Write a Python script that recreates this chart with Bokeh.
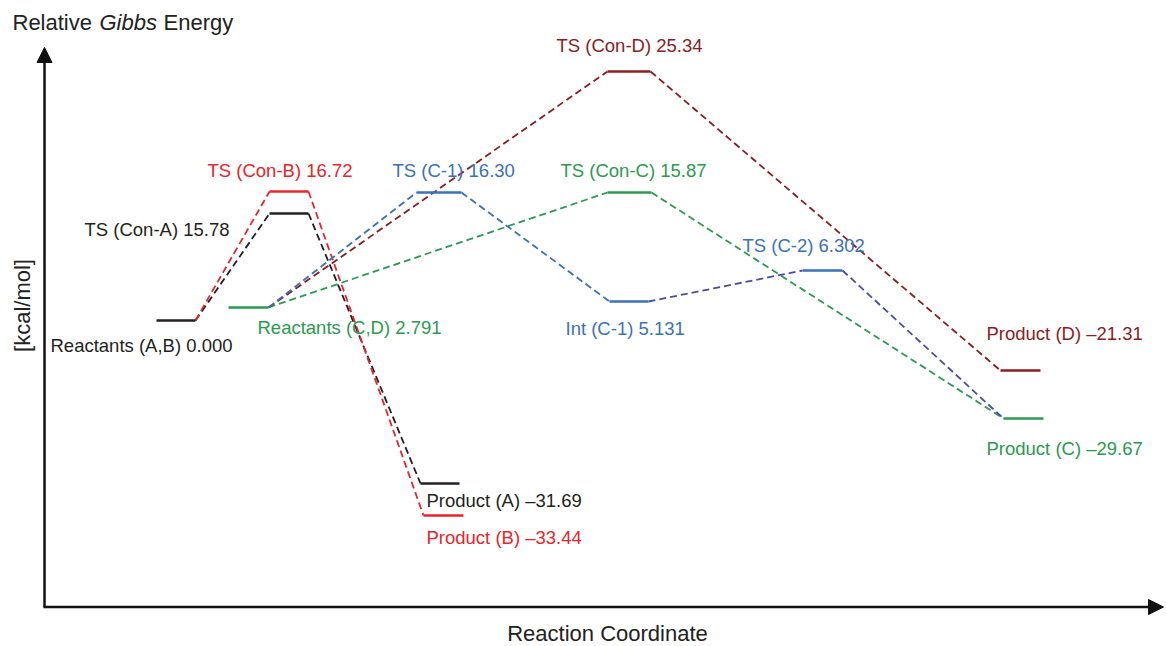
import math
from bokeh.plotting import figure
from bokeh.models import Range1d, Arrow, NormalHead, ColumnDataSource
from bokeh.core.properties import value
from bokeh.embed import file_html
from bokeh.resources import INLINE

# ---------------- data ----------------
state_names = ["Reactants (A,B)", "TS (Con-A)", "TS (Con-B)", "Product (A)", "Product (B)",
               "Reactants (C,D)", "TS (C-1)", "Int (C-1)", "TS (C-2)", "TS (Con-C)",
               "TS (Con-D)", "Product (C)", "Product (D)"]
energies = [0.000, 15.78, 16.72, -31.69, -33.44, 2.791, 16.30, 5.131, 6.302, 15.87,
            25.34, -29.67, -21.31]
energy_text = ["0.000", "15.78", "16.72", "\u201331.69", "\u201333.44", "2.791", "16.30",
               "5.131", "6.302", "15.87", "25.34", "\u201329.67", "\u201321.31"]
# schematic drawing height of each level (diagram units, not to scale)
level_y = [0.0, 10.7, 12.9, -16.3, -19.5, 1.3, 12.8, 1.9, 5.0, 12.8, 24.9, -9.8, -5.0]
# reaction-coordinate span of each level
level_x0 = [11.2, 22.5, 22.5, 37.6, 37.9, 18.4, 37.2, 56.5, 75.8, 56.3, 56.3, 95.9, 95.6]
level_x1 = [15.1, 26.4, 26.4, 41.5, 41.9, 22.4, 41.7, 60.4, 79.8, 60.7, 60.6, 99.9, 99.6]

# pathways: sequence of state indices
path_A = [0, 1, 3]
path_B = [0, 2, 4]
path_C = [5, 9, 11]
path_C_step = [5, 6, 7, 8, 11]
path_D = [5, 10, 12]

# ---------------- styles ----------------
BLACK = "#231f20"
RED = "#e8252b"
BLUE = "#3a72b6"
INDIGO = "#4a4c9e"
GREEN = "#2b9a4f"
DRED = "#8b1c1f"

state_color = [BLACK, BLACK, RED, BLACK, RED, GREEN, BLUE, BLUE, BLUE, GREEN, DRED, GREEN, DRED]

paths = [
    (path_A, [BLACK, BLACK]),
    (path_B, [RED, RED]),
    (path_C, [GREEN, GREEN]),
    (path_D, [DRED, DRED]),
    (path_C_step, [BLUE, BLUE, INDIGO, INDIGO]),
]

# label anchor (left, middle) positions in data units
label_pos = {
    0: (0.6, -2.5), 1: (4.0, 9.1), 2: (16.3, 15.0), 3: (38.2, -18.0), 4: (38.2, -21.7),
    5: (21.3, -0.7), 6: (34.8, 15.0), 7: (52.1, -0.8), 8: (69.8, 7.5), 9: (51.6, 15.0),
    10: (51.2, 27.5), 11: (94.2, -12.8), 12: (94.2, -1.3),
}

FONT = "Liberation Sans"

p = figure(width=1166, height=646, x_range=Range1d(-4.4, 112.2), y_range=Range1d(-32.6, 32.0),
           x_axis_type=None, y_axis_type=None, toolbar_location=None, output_backend="svg",
           min_border=0, outline_line_color=None, background_fill_color="white",
           border_fill_color="white")

# dashed connectors
for idx, colors in paths:
    xs0, ys0, xs1, ys1 = [], [], [], []
    for a, b in zip(idx[:-1], idx[1:]):
        xs0.append(level_x1[a]); ys0.append(level_y[a])
        xs1.append(level_x0[b]); ys1.append(level_y[b])
    src = ColumnDataSource(dict(x0=xs0, y0=ys0, x1=xs1, y1=ys1, c=colors))
    p.segment("x0", "y0", "x1", "y1", source=src, line_color="c", line_width=1.8,
              line_dash="7 4")

# solid levels
lsrc = ColumnDataSource(dict(x0=level_x0, x1=level_x1, y=level_y, c=state_color))
p.segment("x0", "y", "x1", "y", source=lsrc, line_color="c", line_width=2.4)

# level labels
lx = [label_pos[i][0] for i in range(len(state_names))]
ly = [label_pos[i][1] for i in range(len(state_names))]
ltxt = [f"{n} {e}" for n, e in zip(state_names, energy_text)]
tsrc = ColumnDataSource(dict(x=lx, y=ly, t=ltxt, c=state_color))
p.text("x", "y", text="t", source=tsrc, text_color="c", text_font=value(FONT),
       text_font_size="18.5px", text_align="left", text_baseline="middle")

# axes with arrows
AX = "#111111"
p.add_layout(Arrow(end=NormalHead(size=15, fill_color=AX, line_color=AX), x_start=0, y_start=-28.65,
                   x_end=0, y_end=27.3, line_width=2.5, line_color=AX))
p.add_layout(Arrow(end=NormalHead(size=15, fill_color=AX, line_color=AX), x_start=-0.1, y_start=-28.65,
                   x_end=111.9, y_end=-28.65, line_width=2.5, line_color=AX))

# axis titles
TY = 29.8
p.text(x=[-3.2], y=[TY], text=["Relative"], text_font=value(FONT), text_font_size="22px",
       text_color="#222222", text_baseline="middle", text_align="left")
p.text(x=[5.5], y=[TY], text=["Gibbs"], text_font=value(FONT), text_font_size="22px",
       text_font_style="italic", text_color="#222222", text_baseline="middle", text_align="left")
p.text(x=[11.9], y=[TY], text=["Energy"], text_font=value(FONT), text_font_size="22px",
       text_color="#222222", text_baseline="middle", text_align="left")
p.text(x=[-2.2], y=[1.5], text=["[kcal/mol]"], angle=math.pi / 2, text_font=value(FONT),
       text_font_size="22px", text_color="#222222", text_baseline="middle", text_align="center")
p.text(x=[56.3], y=[-31.3], text=["Reaction Coordinate"], text_font=value(FONT),
       text_font_size="22px", text_color="#222222", text_baseline="middle", text_align="center")

open("out.html", "w").write(file_html(p, INLINE))
